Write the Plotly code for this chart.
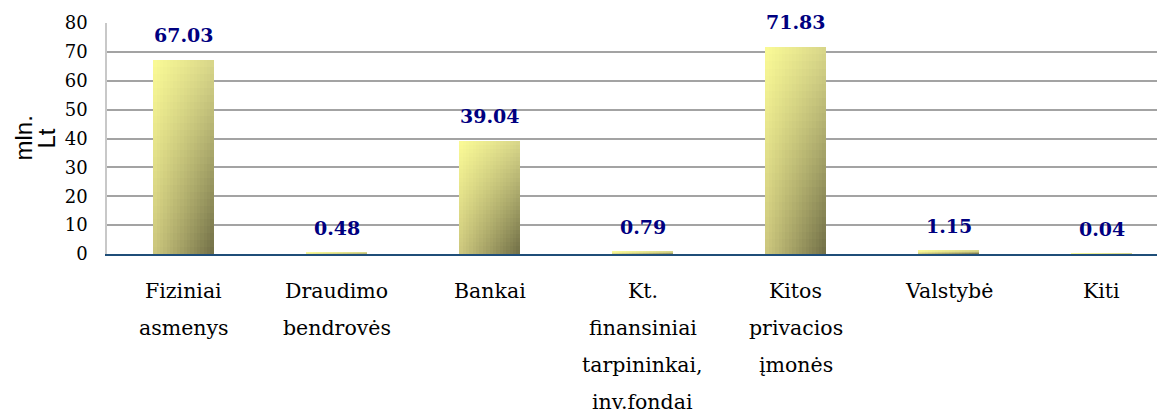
import plotly.graph_objects as go

categories = ["Fiziniai\nasmenys", "Draudimo\nbendrovės", "Bankai",
              "Kt.\nfinansiniai\ntarpininkai,\ninv.fondai",
              "Kitos\nprivacios\nįmonės", "Valstybė", "Kiti"]
values = [67.03, 0.48, 39.04, 0.79, 71.83, 1.15, 0.04]
value_labels = ["67.03", "0.48", "39.04", "0.79", "71.83", "1.15", "0.04"]
y_ticks = [0, 10, 20, 30, 40, 50, 60, 70, 80]
y_title_lines = ["mln.", "Lt"]

SERIF = "DejaVu Serif"
SANS = "Liberation Sans"

# gradient corners (top-left, top-right, bottom-left, bottom-right)
TL = (251, 251, 150)
TR = (217, 215, 138)
BL = (205, 200, 126)
BR = (112, 110, 70)

def lerp(a, b, t):
    return tuple(a[k] + (b[k] - a[k]) * t for k in range(3))

def color_at(u, v):  # u: 0 left..1 right, v: 0 bottom..1 top
    top = lerp(TL, TR, u)
    bot = lerp(BL, BR, u)
    c = lerp(bot, top, v)
    return "rgb(%d,%d,%d)" % tuple(round(x) for x in c)

x = list(range(len(categories)))
W = 0.395
N = 18
M = 28

fig = go.Figure()
for i in range(N):
    off = -W / 2 + i * W / N
    wid = W - i * W / N
    for j in range(M):
        base = [v * j / M for v in values]
        hgt = [v - b for v, b in zip(values, base)]
        fig.add_trace(go.Bar(
            x=x, y=hgt, base=base, width=wid, offset=off,
            marker=dict(color=color_at((i + 0.5) / N, (j + 0.5) / M), line=dict(width=0)),
            showlegend=False, hoverinfo="skip"))

annotations = []
for xi, v, lab in zip(x, values, value_labels):
    annotations.append(dict(x=xi, y=v, xref="x", yref="y", text="<b>%s</b>" % lab,
                            showarrow=False, yanchor="bottom", yshift=12,
                            font=dict(family=SERIF, size=19, color="#000080")))
LINE = 37
for xi, cat in zip(x, categories):
    for k, line in enumerate(cat.split("\n")):
        annotations.append(dict(x=xi, y=0, xref="x", yref="paper", text=line,
                                showarrow=False, yanchor="top", yshift=-23 - k * LINE,
                                font=dict(family=SERIF, size=20.5, color="#000000")))
for k, t in enumerate(y_title_lines):
    annotations.append(dict(x=0, y=0.5, xref="paper", yref="paper", text=t,
                            showarrow=False, textangle=-90, xanchor="center", yanchor="middle",
                            xshift=-84 + k * 23,
                            font=dict(family=SANS, size=24, color="#000000")))

fig.update_layout(
    width=1157, height=407,
    margin=dict(l=99, r=0, t=15, b=161),
    paper_bgcolor="white", plot_bgcolor="white",
    barmode="overlay", bargap=0,
    annotations=annotations,
    xaxis=dict(range=[-0.5, 6.415], showticklabels=False, showgrid=False, zeroline=False,
               showline=True, linecolor="#1f4e79", linewidth=2, ticks=""),
    yaxis=dict(range=[0, 80], tickvals=y_ticks, ticktext=[str(t) for t in y_ticks],
               showgrid=True, gridcolor="#a3a3a3", gridwidth=1.5, zeroline=False,
               showline=True, linecolor="#c8c8c8", linewidth=1.5, ticks="",
               ticklabelstandoff=14,
               tickfont=dict(family=SERIF, size=18, color="#000000")),
)

fig.write_html("out.html")
